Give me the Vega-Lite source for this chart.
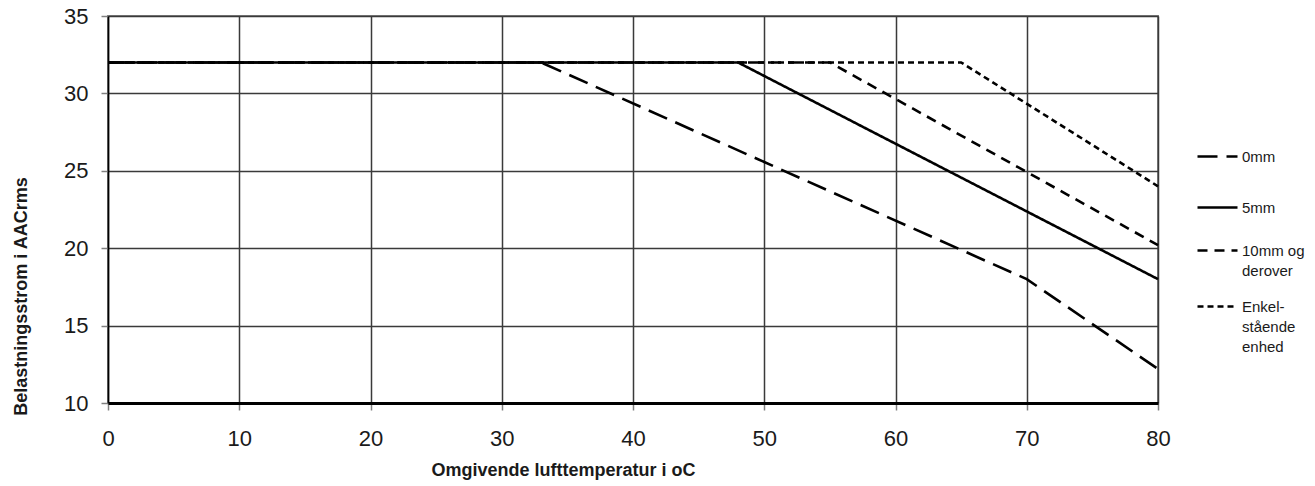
{
  "$schema": "https://vega.github.io/schema/vega-lite/v6.json",
  "width": 1050,
  "height": 387,
  "autosize": {"type": "none"},
  "padding": {"left": 108, "top": 16, "right": 157, "bottom": 83},
  "background": "white",
  "config": {
    "font": "Liberation Sans",
    "view": {"stroke": "#808080", "strokeWidth": 2},
    "axis": {
      "labelFont": "Liberation Sans",
      "labelFontSize": 22,
      "labelColor": "#1a1a1a",
      "labelFlush": false,
      "labelOverlap": false,
      "titleFont": "Liberation Sans",
      "titleFontSize": 18,
      "titleFontWeight": "bold",
      "titleColor": "#1a1a1a",
      "gridColor": "#3a3a3a",
      "gridWidth": 1.5,
      "gridOpacity": 1,
      "tickColor": "#808080",
      "tickSize": 7,
      "tickWidth": 1.5,
      "domainColor": "black"
    },
    "legend": {
      "title": null,
      "orient": "none",
      "legendX": 1088,
      "symbolType": "stroke",
      "symbolSize": 1600,
      "symbolStrokeWidth": 2.6,
      "symbolStrokeColor": "black",
      "labelFont": "Liberation Sans",
      "labelFontSize": 15,
      "labelColor": "#1a1a1a",
      "labelOffset": 3,
      "labelLimit": 200,
      "labelBaseline": "top"
    }
  },
  "data": {
    "values": [
      {"series": "0mm", "temp": 0, "current": 32},
      {"series": "0mm", "temp": 33, "current": 32},
      {"series": "0mm", "temp": 70, "current": 18},
      {"series": "0mm", "temp": 80, "current": 12.2},
      {"series": "5mm", "temp": 0, "current": 32},
      {"series": "5mm", "temp": 48, "current": 32},
      {"series": "5mm", "temp": 80, "current": 18},
      {"series": "10mm og derover", "temp": 0, "current": 32},
      {"series": "10mm og derover", "temp": 55, "current": 32},
      {"series": "10mm og derover", "temp": 80, "current": 20.2},
      {"series": "Enkeltstående enhed", "temp": 0, "current": 32},
      {"series": "Enkeltstående enhed", "temp": 65, "current": 32},
      {"series": "Enkeltstående enhed", "temp": 80, "current": 24}
    ]
  },
  "encoding": {
    "x": {
      "field": "temp",
      "type": "quantitative",
      "scale": {"domain": [0, 80], "nice": false, "zero": false},
      "axis": {
        "values": [0, 10, 20, 30, 40, 50, 60, 70, 80],
        "title": "Omgivende lufttemperatur i oC",
        "titleX": 455,
        "titleY": 67,
        "titleBaseline": "middle",
        "labelPadding": 18,
        "domainWidth": 3,
        "grid": true
      }
    },
    "y": {
      "field": "current",
      "type": "quantitative",
      "scale": {"domain": [10, 35], "nice": false, "zero": false},
      "axis": {
        "values": [10, 15, 20, 25, 30, 35],
        "title": "Belastningsstrom i AACrms",
        "titleX": -87,
        "titleY": 280,
        "titleAlign": "center",
        "titleBaseline": "middle",
        "labelPadding": 13,
        "domainWidth": 1.5,
        "grid": true
      }
    }
  },
  "layer": [
    {
      "transform": [{"filter": "datum.series == '0mm'"}],
      "mark": {"type": "line", "color": "black", "strokeWidth": 2.6, "strokeCap": "butt"},
      "encoding": {
        "strokeDash": {
          "field": "series", "type": "nominal",
          "scale": {"domain": ["0mm"], "range": [[20, 9]]},
          "legend": {
            "legendY": 119,
            "encode": {"labels": {"update": {"dy": {"value": -7}, "lineHeight": {"value": 20}}}}
          }
        }
      }
    },
    {
      "transform": [{"filter": "datum.series == '5mm'"}],
      "mark": {"type": "line", "color": "black", "strokeWidth": 2.6, "strokeCap": "butt"},
      "encoding": {
        "strokeDash": {
          "field": "series", "type": "nominal",
          "scale": {"domain": ["5mm"], "range": [[1, 0]]},
          "legend": {
            "legendY": 170,
            "encode": {"labels": {"update": {"dy": {"value": -7}, "lineHeight": {"value": 20}}}}
          }
        }
      }
    },
    {
      "transform": [{"filter": "datum.series == '10mm og derover'"}],
      "mark": {"type": "line", "color": "black", "strokeWidth": 2.6, "strokeCap": "butt"},
      "encoding": {
        "strokeDash": {
          "field": "series", "type": "nominal",
          "scale": {"domain": ["10mm og derover"], "range": [[10, 7]]},
          "legend": {
            "legendY": 213,
            "labelExpr": "['10mm og', 'derover']",
            "encode": {"labels": {"update": {"dy": {"value": -7}, "lineHeight": {"value": 20}}}}
          }
        }
      }
    },
    {
      "transform": [{"filter": "datum.series == 'Enkeltstående enhed'"}],
      "mark": {"type": "line", "color": "black", "strokeWidth": 2.6, "strokeCap": "butt"},
      "encoding": {
        "strokeDash": {
          "field": "series", "type": "nominal",
          "scale": {"domain": ["Enkeltstående enhed"], "range": [[6, 4]]},
          "legend": {
            "legendY": 269,
            "labelExpr": "['Enkel-', 'stående', 'enhed']",
            "encode": {"labels": {"update": {"dy": {"value": -7}, "lineHeight": {"value": 20}}}}
          }
        }
      }
    }
  ],
  "resolve": {"scale": {"strokeDash": "independent"}, "legend": {"strokeDash": "independent"}}
}
